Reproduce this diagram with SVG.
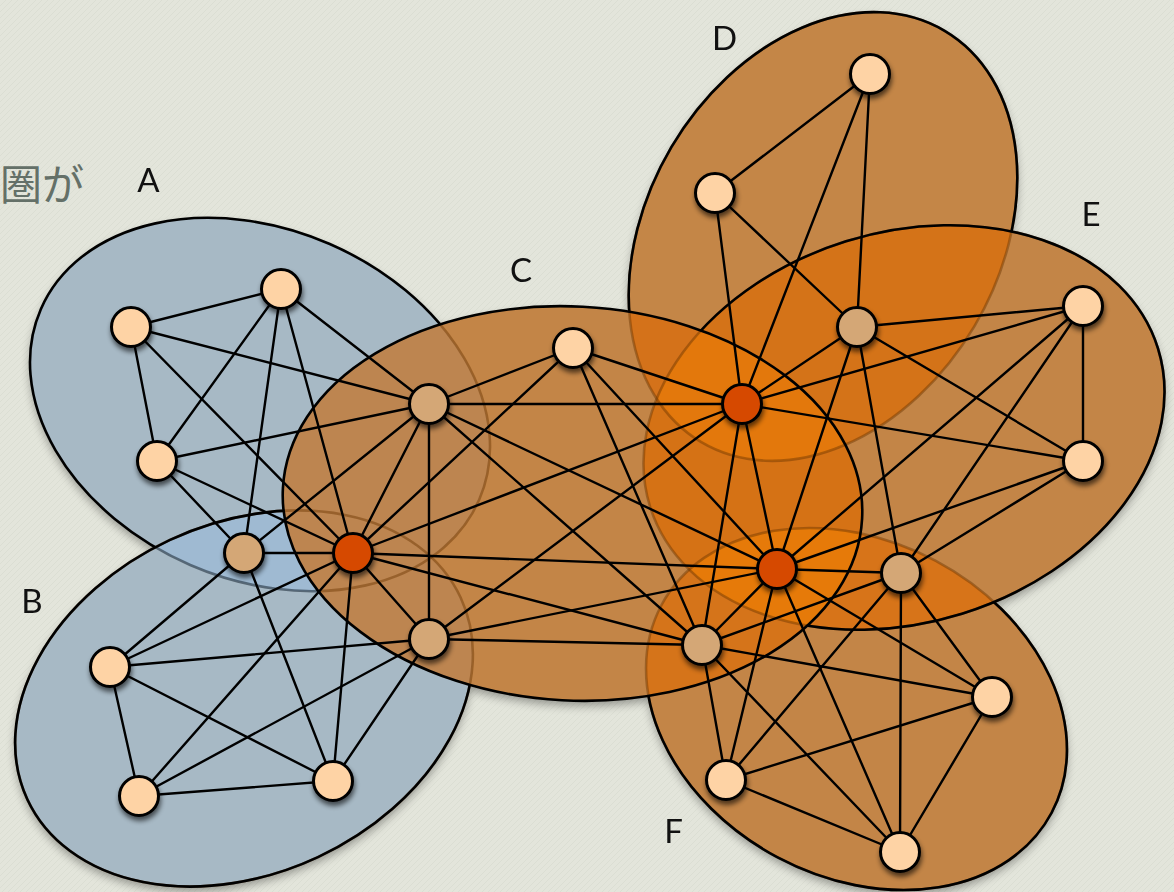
<svg xmlns="http://www.w3.org/2000/svg" width="1174" height="892" viewBox="0 0 1174 892">
<defs>
<style>
.edge{stroke:#000;stroke-width:2.4;stroke-linecap:round}
.n{stroke:#000;stroke-width:3}
.peach{fill:#fed3a5}
.tan{fill:#d4a776}
.red{fill:#d64a00}
.lbl{font-family:Lato,"Open Sans","Liberation Sans",sans-serif;font-size:33px;fill:#111;text-anchor:middle}
.ring{fill:none;stroke:#000;stroke-width:2.6}
.ghost{fill:none;stroke:#6b3500;stroke-opacity:0.45;stroke-width:2.6}
.ghostb{fill:none;stroke:#22303e;stroke-opacity:0.6;stroke-width:2.6}
</style>
<pattern id="tex" width="6" height="6" patternUnits="userSpaceOnUse">
<rect width="6" height="6" fill="#e3e5db"/>
<path d="M0 6L6 0" stroke="#d6d9cd" stroke-width="1" opacity="0.6"/>
</pattern>
<ellipse id="eA" cx="260" cy="404.5" rx="239" ry="175" transform="rotate(23.5 260 404.5)"/>
<ellipse id="eB" cx="244" cy="698.5" rx="239" ry="175" transform="rotate(-25 244 698.5)"/>
<ellipse id="eC" cx="572.5" cy="503.5" rx="290" ry="197" transform="rotate(3 572.5 503.5)"/>
<ellipse id="eD" cx="823" cy="236.5" rx="239" ry="176" transform="rotate(-59.4 823 236.5)"/>
<ellipse id="eE" cx="904" cy="427.5" rx="266" ry="195" transform="rotate(-17.3 904 427.5)"/>
<ellipse id="eF" cx="856.5" cy="709" rx="221" ry="168" transform="rotate(28 856.5 709)"/>
<clipPath id="cA"><use href="#eA"/></clipPath>
<clipPath id="cB"><use href="#eB"/></clipPath>
<clipPath id="cC"><use href="#eC"/></clipPath>
<clipPath id="cD"><use href="#eD"/></clipPath>
<clipPath id="cE"><use href="#eE"/></clipPath>
<clipPath id="cF"><use href="#eF"/></clipPath>
<mask id="mA" maskUnits="userSpaceOnUse" x="0" y="0" width="1174" height="892"><rect width="1174" height="892" fill="#fff"/><use href="#eB" fill="#000"/><use href="#eC" fill="#000"/></mask>
<mask id="mB" maskUnits="userSpaceOnUse" x="0" y="0" width="1174" height="892"><rect width="1174" height="892" fill="#fff"/><use href="#eC" fill="#000"/></mask>
<mask id="mD" maskUnits="userSpaceOnUse" x="0" y="0" width="1174" height="892"><rect width="1174" height="892" fill="#fff"/><use href="#eE" fill="#000"/><use href="#eC" fill="#000"/></mask>
<mask id="mF" maskUnits="userSpaceOnUse" x="0" y="0" width="1174" height="892"><rect width="1174" height="892" fill="#fff"/><use href="#eE" fill="#000"/><use href="#eC" fill="#000"/></mask>
<mask id="mE" maskUnits="userSpaceOnUse" x="0" y="0" width="1174" height="892"><rect width="1174" height="892" fill="#fff"/><use href="#eC" fill="#000"/></mask>
<filter id="ns" x="-50%" y="-50%" width="200%" height="200%">
<feGaussianBlur in="SourceAlpha" stdDeviation="2.5"/>
<feOffset dx="1" dy="4"/>
<feComponentTransfer><feFuncA type="linear" slope="0.6"/></feComponentTransfer>
<feMerge><feMergeNode/><feMergeNode in="SourceGraphic"/></feMerge>
</filter>
<filter id="es" x="-10%" y="-10%" width="120%" height="120%">
<feGaussianBlur in="SourceAlpha" stdDeviation="5"/>
<feOffset dx="0" dy="5"/>
<feComponentTransfer><feFuncA type="linear" slope="0.35"/></feComponentTransfer>
<feMerge><feMergeNode/><feMergeNode in="SourceGraphic"/></feMerge>
</filter>
</defs>
<rect width="1174" height="892" fill="url(#tex)"/>
<text x="0" y="200" font-family="'Noto Sans CJK JP',sans-serif" font-size="42" fill="#647068">圏が</text>
<g id="clusters">
<g id="cluster-fills" filter="url(#es)">
<use href="#eA" fill="#a7b9c5"/>
<use href="#eB" fill="#a7b9c5"/>
<use href="#eD" fill="#c48646"/>
<use href="#eF" fill="#c38546"/>
<use href="#eE" fill="#c38546"/>
<use href="#eC" fill="#c38547"/>
</g>
<g id="overlaps">
<use href="#eB" clip-path="url(#cA)" fill="#9fbad2"/>
<use href="#eC" clip-path="url(#cA)" fill="#bd8550"/>
<use href="#eC" clip-path="url(#cB)" fill="#bd8550"/>
<use href="#eD" clip-path="url(#cC)" fill="#d4721a"/>
<use href="#eE" clip-path="url(#cC)" fill="#d57215"/>
<use href="#eF" clip-path="url(#cC)" fill="#d5741a"/>
<use href="#eE" clip-path="url(#cD)" fill="#d47318"/>
<use href="#eF" clip-path="url(#cE)" fill="#d77419"/>
<g clip-path="url(#cC)"><use href="#eE" clip-path="url(#cD)" fill="#e3780c"/></g>
<g clip-path="url(#cC)"><use href="#eF" clip-path="url(#cE)" fill="#e67a09"/></g>
</g>
<g id="ghost-borders">
<use href="#eA" class="ghostb" clip-path="url(#cB)" mask="url(#mB)"/>
<use href="#eA" class="ghost" clip-path="url(#cC)"/>
<use href="#eB" class="ghost"/>
<use href="#eD" class="ghost"/>
<use href="#eF" class="ghost"/>
<use href="#eE" class="ghost"/>
</g>
<g id="borders">
<use href="#eA" class="ring" mask="url(#mA)"/>
<use href="#eB" class="ring" mask="url(#mB)"/>
<use href="#eD" class="ring" mask="url(#mD)"/>
<use href="#eF" class="ring" mask="url(#mF)"/>
<use href="#eE" class="ring" mask="url(#mE)"/>
<use href="#eC" class="ring"/>
</g>
</g>
<g id="connectors" class="edge">
<line x1="131" y1="327" x2="281" y2="289"/>
<line x1="131" y1="327" x2="157" y2="461"/>
<line x1="131" y1="327" x2="429" y2="404"/>
<line x1="131" y1="327" x2="353" y2="553"/>
<line x1="281" y1="289" x2="157" y2="461"/>
<line x1="281" y1="289" x2="244" y2="553"/>
<line x1="281" y1="289" x2="353" y2="553"/>
<line x1="281" y1="289" x2="429" y2="404"/>
<line x1="157" y1="461" x2="429" y2="404"/>
<line x1="157" y1="461" x2="244" y2="553"/>
<line x1="157" y1="461" x2="353" y2="553"/>
<line x1="244" y1="553" x2="429" y2="404"/>
<line x1="244" y1="553" x2="353" y2="553"/>
<line x1="429" y1="404" x2="353" y2="553"/>
<line x1="110" y1="667" x2="244" y2="553"/>
<line x1="110" y1="667" x2="353" y2="553"/>
<line x1="110" y1="667" x2="429" y2="639"/>
<line x1="110" y1="667" x2="139" y2="796"/>
<line x1="110" y1="667" x2="333" y2="781"/>
<line x1="139" y1="796" x2="353" y2="553"/>
<line x1="139" y1="796" x2="429" y2="639"/>
<line x1="139" y1="796" x2="333" y2="781"/>
<line x1="333" y1="781" x2="244" y2="553"/>
<line x1="333" y1="781" x2="353" y2="553"/>
<line x1="333" y1="781" x2="429" y2="639"/>
<line x1="353" y1="553" x2="429" y2="639"/>
<line x1="429" y1="404" x2="573" y2="348"/>
<line x1="429" y1="404" x2="742" y2="404"/>
<line x1="429" y1="404" x2="429" y2="639"/>
<line x1="429" y1="404" x2="777" y2="569"/>
<line x1="429" y1="404" x2="702" y2="645"/>
<line x1="573" y1="348" x2="742" y2="404"/>
<line x1="573" y1="348" x2="353" y2="553"/>
<line x1="573" y1="348" x2="702" y2="645"/>
<line x1="573" y1="348" x2="777" y2="569"/>
<line x1="742" y1="404" x2="353" y2="553"/>
<line x1="742" y1="404" x2="429" y2="639"/>
<line x1="742" y1="404" x2="702" y2="645"/>
<line x1="742" y1="404" x2="777" y2="569"/>
<line x1="353" y1="553" x2="777" y2="569"/>
<line x1="353" y1="553" x2="702" y2="645"/>
<line x1="429" y1="639" x2="777" y2="569"/>
<line x1="429" y1="639" x2="702" y2="645"/>
<line x1="702" y1="645" x2="777" y2="569"/>
<line x1="870" y1="74" x2="715" y2="193"/>
<line x1="870" y1="74" x2="857" y2="327"/>
<line x1="870" y1="74" x2="742" y2="404"/>
<line x1="715" y1="193" x2="857" y2="327"/>
<line x1="715" y1="193" x2="742" y2="404"/>
<line x1="857" y1="327" x2="742" y2="404"/>
<line x1="857" y1="327" x2="1083" y2="306"/>
<line x1="857" y1="327" x2="1083" y2="461"/>
<line x1="857" y1="327" x2="777" y2="569"/>
<line x1="857" y1="327" x2="901" y2="573"/>
<line x1="742" y1="404" x2="1083" y2="306"/>
<line x1="742" y1="404" x2="1083" y2="461"/>
<line x1="1083" y1="306" x2="1083" y2="461"/>
<line x1="1083" y1="306" x2="777" y2="569"/>
<line x1="1083" y1="306" x2="901" y2="573"/>
<line x1="1083" y1="461" x2="777" y2="569"/>
<line x1="1083" y1="461" x2="901" y2="573"/>
<line x1="777" y1="569" x2="901" y2="573"/>
<line x1="777" y1="569" x2="992" y2="697"/>
<line x1="777" y1="569" x2="726" y2="780"/>
<line x1="777" y1="569" x2="900" y2="852"/>
<line x1="901" y1="573" x2="702" y2="645"/>
<line x1="901" y1="573" x2="992" y2="697"/>
<line x1="901" y1="573" x2="726" y2="780"/>
<line x1="901" y1="573" x2="900" y2="852"/>
<line x1="702" y1="645" x2="992" y2="697"/>
<line x1="702" y1="645" x2="726" y2="780"/>
<line x1="702" y1="645" x2="900" y2="852"/>
<line x1="992" y1="697" x2="726" y2="780"/>
<line x1="992" y1="697" x2="900" y2="852"/>
<line x1="726" y1="780" x2="900" y2="852"/>
</g>
<g id="nodes" filter="url(#ns)">
<g id="n-a1"><circle class="n peach" cx="131" cy="327" r="19.5"/></g>
<g id="n-a2"><circle class="n peach" cx="281" cy="289" r="19.5"/></g>
<g id="n-a3"><circle class="n peach" cx="157" cy="461" r="19.5"/></g>
<g id="n-ab"><circle class="n tan" cx="244" cy="553" r="19.5"/></g>
<g id="n-r1"><circle class="n red" cx="353" cy="553" r="19.5"/></g>
<g id="n-ac"><circle class="n tan" cx="429" cy="404" r="19.5"/></g>
<g id="n-b1"><circle class="n peach" cx="110" cy="667" r="19.5"/></g>
<g id="n-b2"><circle class="n peach" cx="139" cy="796" r="19.5"/></g>
<g id="n-b3"><circle class="n peach" cx="333" cy="781" r="19.5"/></g>
<g id="n-bc"><circle class="n tan" cx="429" cy="639" r="19.5"/></g>
<g id="n-c1"><circle class="n peach" cx="573" cy="348" r="19.5"/></g>
<g id="n-r2"><circle class="n red" cx="742" cy="404" r="19.5"/></g>
<g id="n-r3"><circle class="n red" cx="777" cy="569" r="19.5"/></g>
<g id="n-cf"><circle class="n tan" cx="702" cy="645" r="19.5"/></g>
<g id="n-de"><circle class="n tan" cx="857" cy="327" r="19.5"/></g>
<g id="n-ef"><circle class="n tan" cx="901" cy="573" r="19.5"/></g>
<g id="n-d1"><circle class="n peach" cx="870" cy="74" r="19.5"/></g>
<g id="n-d2"><circle class="n peach" cx="715" cy="193" r="19.5"/></g>
<g id="n-e1"><circle class="n peach" cx="1083" cy="306" r="19.5"/></g>
<g id="n-e2"><circle class="n peach" cx="1083" cy="461" r="19.5"/></g>
<g id="n-f1"><circle class="n peach" cx="992" cy="697" r="19.5"/></g>
<g id="n-f2"><circle class="n peach" cx="726" cy="780" r="19.5"/></g>
<g id="n-f3"><circle class="n peach" cx="900" cy="852" r="19.5"/></g>
</g>
<g id="labels">
<text class="lbl" x="148.5" y="192">A</text>
<text class="lbl" x="32" y="613">B</text>
<text class="lbl" x="521" y="282">C</text>
<text class="lbl" x="724.5" y="50">D</text>
<text class="lbl" x="1091" y="226">E</text>
<text class="lbl" x="673.5" y="843">F</text>
</g>
</svg>
